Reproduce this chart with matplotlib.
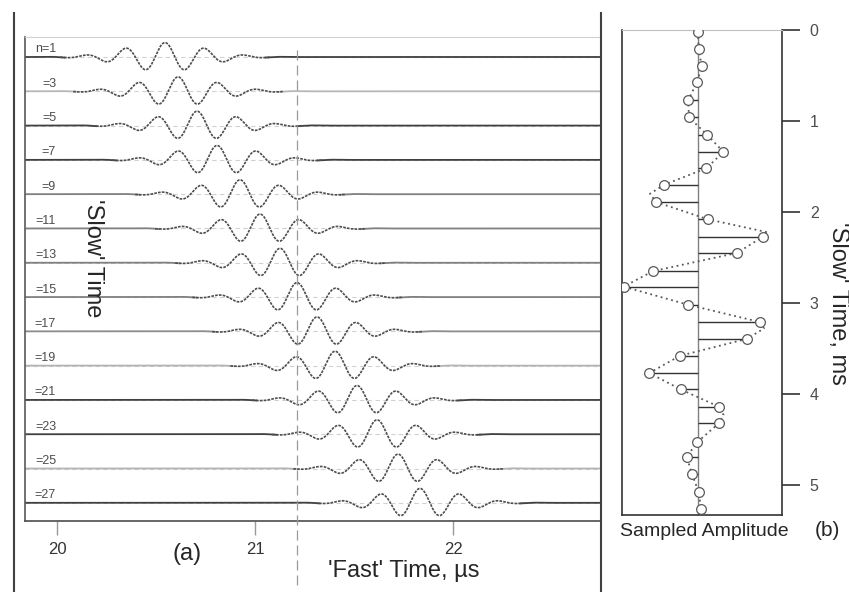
import numpy as np
import matplotlib
matplotlib.use("Agg")
import matplotlib.pyplot as plt
import matplotlib.transforms as mtransforms
from matplotlib.lines import Line2D

plt.rcParams['font.family'] = ['Liberation Sans', 'DejaVu Sans']

# ---------------- Panel (a) data ----------------
trace_labels = ["n=1", "=3", "=5", "=7", "=9", "=11", "=13", "=15",
                "=17", "=19", "=21", "=23", "=25", "=27"]
trace_centers_us = [20.545, 20.611, 20.707, 20.808, 20.924, 21.025, 21.126,
                    21.212, 21.313, 21.404, 21.515, 21.616, 21.722, 21.833]
trace_line_grays = ['0.25', '0.72', '0.25', '0.25', '0.5', '0.5', '0.5',
                    '0.5', '0.55', '0.7', '0.25', '0.25', '0.7', '0.25']
carrier_period_us = 0.2
envelope_sigma_us = 0.2
wavelet_amplitude = 0.42
sample_time_us = 21.21
fast_ticks = [20, 21, 22]
fast_tick_labels = ["20", "21", "22"]

# ---------------- Panel (b) data ----------------
slow_time_ms = [0.02, 0.21, 0.40, 0.57, 0.77, 0.96, 1.15, 1.34, 1.52, 1.70,
                1.89, 2.08, 2.27, 2.45, 2.65, 2.82, 3.02, 3.21, 3.395, 3.58,
                3.77, 3.95, 4.14, 4.32, 4.53, 4.69, 4.88, 5.08, 5.26]
sampled_amp = [0.0, 0.01, 0.05, -0.01, -0.13, -0.12, 0.12, 0.34, 0.11, -0.45,
               -0.56, 0.13, 0.87, 0.52, -0.60, -0.99, -0.13, 0.83, 0.65, -0.24,
               -0.65, -0.23, 0.28, 0.28, -0.01, -0.15, -0.08, 0.01, 0.04]
curve_time_ms = [0.02, 0.21, 0.40, 0.57, 0.77, 0.96, 1.15, 1.34, 1.52, 1.70,
                 1.80, 1.89, 2.08, 2.22, 2.27, 2.45, 2.65, 2.82, 3.02, 3.21,
                 3.28, 3.395, 3.58, 3.77, 3.95, 4.14, 4.23, 4.32, 4.53, 4.69,
                 4.88, 5.08, 5.26]
curve_amp = [0.0, 0.01, 0.05, -0.01, -0.13, -0.12, 0.12, 0.34, 0.11, -0.45,
             -0.64, -0.56, 0.13, 0.91, 0.87, 0.52, -0.60, -0.99, -0.13, 0.83,
             0.88, 0.65, -0.24, -0.65, -0.23, 0.28, 0.34, 0.28, -0.01, -0.15,
             -0.08, 0.01, 0.04]
slow_ticks = [0, 1, 2, 3, 4, 5]

W, H = 849, 592
fig = plt.figure(figsize=(W / 100, H / 100), dpi=100)


def fx(px):
    return px / W


def fy(py):
    return 1 - py / H


# ---------------- Panel (a) ----------------
axA = fig.add_axes([fx(25), fy(521), fx(601) - fx(25), fy(37) - fy(521)])
x_lo, x_hi = 19.838, 22.747
axA.set_xlim(x_lo, x_hi)
axA.set_ylim(13.53, -0.583)

t = np.linspace(x_lo, x_hi, 3000)
blend = mtransforms.blended_transform_factory(axA.transAxes, axA.transData)
for i, (lab, c, g) in enumerate(zip(trace_labels, trace_centers_us, trace_line_grays)):
    env = np.exp(-(t - c) ** 2 / (2 * envelope_sigma_us ** 2))
    w = env * np.cos(2 * np.pi * (t - c) / carrier_period_us)
    y = i - wavelet_amplitude * w
    flat = np.where(env < 0.04, y, np.nan)
    osc = np.where(env >= 0.03, y, np.nan)
    axA.axhline(i, color='0.82', lw=0.8, ls=(0, (4, 3)), zorder=1)
    axA.plot(t, flat, color=g, lw=1.3, zorder=2)
    axA.plot(t, osc, color='0.3', lw=1.2, ls=(0, (1.6, 0.7)), zorder=3)
    axA.text(0.054, i - 0.22, lab, transform=blend, ha='right', va='center',
             fontsize=9, color='0.3')

axA.axvline(sample_time_us, ymin=-0.132, ymax=0.979, color='0.6', lw=0.9,
            ls=(0, (8, 4)), clip_on=False, zorder=4)

axA.spines['right'].set_visible(False)
axA.spines['top'].set_color('0.82')
axA.spines['left'].set_color('0.35')
axA.spines['left'].set_linewidth(1.2)
axA.spines['bottom'].set_color('0.3')
axA.spines['bottom'].set_linewidth(1.2)
axA.set_xticks(fast_ticks)
axA.set_xticklabels(fast_tick_labels)
axA.tick_params(axis='x', direction='out', length=10, width=1, color='0.6',
                labelsize=12, labelcolor='0.2', pad=5)
axA.set_yticks([])

# ---------------- Panel (b) ----------------
axB = fig.add_axes([fx(622), fy(515), fx(782) - fx(622), fy(30) - fy(515)])
axB.set_xlim(-1.013, 1.12)
axB.set_ylim(5.33, 0)
axB.axvline(0, color='0.5', lw=1.0, zorder=1)
axB.plot(curve_amp, curve_time_ms, color='0.35', lw=1.3, ls=(0, (1, 2)), zorder=2)
axB.hlines(slow_time_ms, 0, sampled_amp, color='0.2', lw=1.0, zorder=3)
axB.plot(sampled_amp, slow_time_ms, 'o', ms=7, mfc='white', mec='0.35',
         mew=0.9, zorder=4)
axB.yaxis.tick_right()
axB.set_yticks(slow_ticks)
axB.set_xticks([])
axB.tick_params(axis='y', direction='out', length=13, width=1.2, color='0.2',
                labelsize=11.5, labelcolor='0.3', pad=7)
axB.yaxis.get_major_ticks()[0].tick2line.set_color('0.75')
axB.spines['top'].set_color('0.75')
for s in ['left', 'right', 'bottom']:
    axB.spines[s].set_color('0.2')
    axB.spines[s].set_linewidth(1.2)

# ---------------- Frame lines & texts ----------------
for xp in (14, 601):
    fig.add_artist(Line2D([fx(xp), fx(xp)], [0, fy(13)], color='0.25', lw=1.5))

fig.text(fx(187), fy(554), '(a)', ha='center', va='center', fontsize=17, color='0.15')
fig.text(fx(404), fy(577), "'Fast' Time, µs", ha='center', va='baseline',
         fontsize=17, color='0.15')
fig.text(fx(93), fy(258), "'Slow' Time", ha='center', va='center', rotation=270,
         fontsize=17, color='0.15')
fig.text(fx(838), fy(303), "'Slow' Time, ms", ha='center', va='center', rotation=270,
         fontsize=17, color='0.15')
fig.text(fx(704), fy(531), "Sampled Amplitude", ha='center', va='center',
         fontsize=14, color='0.15')
fig.text(fx(827), fy(531), "(b)", ha='center', va='center', fontsize=15, color='0.15')

fig.savefig('out.png', dpi=100, facecolor='white')
